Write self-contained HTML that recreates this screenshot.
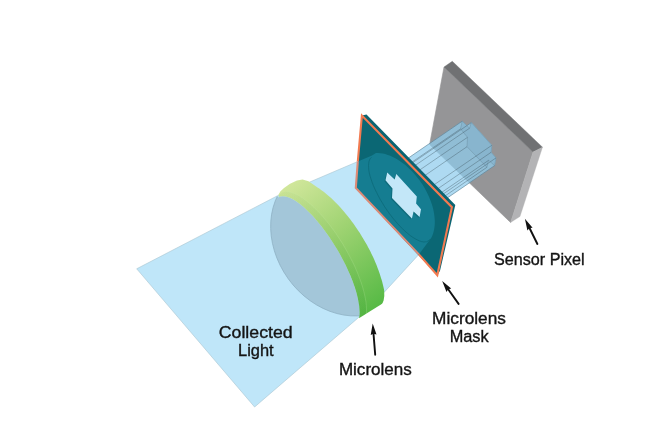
<!DOCTYPE html>
<html><head><meta charset="utf-8">
<style>
html,body{margin:0;padding:0;background:#fff;width:667px;height:430px;overflow:hidden}
svg{display:block}
text{font-family:"Liberation Sans",sans-serif;font-size:16px;fill:#141414;stroke:#141414;stroke-width:0.35px}
</style></head><body>
<svg width="667" height="430" viewBox="0 0 667 430">
<defs>
<linearGradient id="grn" x1="285" y1="185" x2="378" y2="305" gradientUnits="userSpaceOnUse">
<stop offset="0" stop-color="#d2e79c"/>
<stop offset="0.45" stop-color="#9fd372"/>
<stop offset="1" stop-color="#58ba46"/>
</linearGradient>
<clipPath id="cinside"><ellipse cx="316.10" cy="261.91" rx="74.90" ry="24.52" transform="rotate(59.47 316.10 261.91)" /><polygon points="-191.9,-599.5 824.1,1123.3 -37.3,1631.3 -1053.3,-91.5"/></clipPath>
<clipPath id="coutin"><path clip-rule="evenodd" transform="rotate(59.47 316.10 261.91)" d="M-3000,-3000 H3000 V3000 H-3000 Z M241.20,261.91 A74.90,24.52 0 1 0 391.00,261.91 A74.90,24.52 0 1 0 241.20,261.91 Z"/></clipPath>
<clipPath id="ccap"><polygon points="126.3,463.0 615.6,158.5 325.6,-307.5 -163.7,-3.0"/></clipPath>
<linearGradient id="strip" x1="285" y1="185" x2="378" y2="305" gradientUnits="userSpaceOnUse"><stop offset="0" stop-color="#2f8a2a" stop-opacity="0.02"/><stop offset="0.5" stop-color="#2f8a2a" stop-opacity="0.07"/><stop offset="1" stop-color="#2f8a2a" stop-opacity="0.16"/></linearGradient>
<clipPath id="maskclip"><polygon points="361.9,115.5 451.9,207.2 437.3,275.3 355.8,187.9"/></clipPath>
</defs>
<!-- sensor pixel slab -->
<polygon points="444,67 533,152 510.6,222.5 429.6,144.6" fill="#959597" stroke="#959597" stroke-width="0.6"/>
<polygon points="452.3,61.3 542.5,147.2 533,152 444,67" fill="#707173" stroke="#707173" stroke-width="0.4"/>
<polygon points="542.5,147.2 520,216.5 510.6,222.5 533,152" fill="#b3b3b5" stroke="#b3b3b5" stroke-width="0.3"/>
<!-- tubes -->
<g fill="#8fcdee" stroke="#8fcdee" stroke-width="0.3" opacity="0.72"><polygon points="387.2,172.5 394.6,179.5 469.6,128.2 462.2,121.2"/><polygon points="394.6,179.5 396.3,173.9 471.3,122.6 469.6,128.2"/><polygon points="396.3,173.9 416.8,196.6 491.8,145.3 471.3,122.6"/><polygon points="416.8,196.6 416.1,203.6 491.1,152.3 491.8,145.3"/><polygon points="416.1,203.6 421.0,209.2 496.0,157.9 491.1,152.3"/><polygon points="421.0,209.2 419.6,216.9 494.6,165.6 496.0,157.9"/><polygon points="419.6,216.9 413.6,211.6 488.6,160.3 494.6,165.6"/><polygon points="413.6,211.6 411.9,218.6 486.9,167.3 488.6,160.3"/><polygon points="411.9,218.6 392.0,198.0 467.0,146.7 486.9,167.3"/><polygon points="392.0,198.0 392.5,188.6 467.5,137.3 467.0,146.7"/><polygon points="392.5,188.6 385.5,180.2 460.5,128.9 467.5,137.3"/><polygon points="385.5,180.2 387.2,172.5 462.2,121.2 460.5,128.9"/><polygon points="462.2,121.2 469.6,128.2 471.3,122.6 491.8,145.3 491.1,152.3 496.0,157.9 494.6,165.6 488.6,160.3 486.9,167.3 467.0,146.7 467.5,137.3 460.5,128.9"/></g><polygon points="462.2,121.2 469.6,128.2 471.3,122.6 491.8,145.3 491.1,152.3 496.0,157.9 494.6,165.6 488.6,160.3 486.9,167.3 467.0,146.7 467.5,137.3 460.5,128.9" fill="#6f9cb5" fill-opacity="0.22"/><g stroke="#3c525d" stroke-width="0.7" stroke-opacity="0.55" fill="none"><line x1="387.2" y1="172.5" x2="462.2" y2="121.2"/><line x1="394.6" y1="179.5" x2="469.6" y2="128.2"/><line x1="396.3" y1="173.9" x2="471.3" y2="122.6"/><line x1="416.8" y1="196.6" x2="491.8" y2="145.3"/><line x1="416.1" y1="203.6" x2="491.1" y2="152.3"/><line x1="421.0" y1="209.2" x2="496.0" y2="157.9"/><line x1="419.6" y1="216.9" x2="494.6" y2="165.6"/><line x1="413.6" y1="211.6" x2="488.6" y2="160.3"/><line x1="411.9" y1="218.6" x2="486.9" y2="167.3"/><line x1="392.0" y1="198.0" x2="467.0" y2="146.7"/><line x1="392.5" y1="188.6" x2="467.5" y2="137.3"/><line x1="385.5" y1="180.2" x2="460.5" y2="128.9"/><polygon points="462.2,121.2 469.6,128.2 471.3,122.6 491.8,145.3 491.1,152.3 496.0,157.9 494.6,165.6 488.6,160.3 486.9,167.3 467.0,146.7 467.5,137.3 460.5,128.9" stroke-opacity="0.28"/></g>
<!-- collected light beam -->
<path d="M136.7,268.8 L277,196 L357.8,161.5 L372,155 L418.9,254.4 L383.8,292.7 L358,318 L254.6,407 Z" fill="#bfe6f9" stroke="#a8c4d0" stroke-width="0.6"/>
<!-- lens -->
<g clip-path="url(#cinside)"><ellipse cx="341.77" cy="240.27" rx="80.26" ry="65.94" transform="rotate(54.37 341.77 240.27)" fill="#a3c6d9" stroke="#8eafc2" stroke-width="0.7"/></g>
<g clip-path="url(#ccap)"><g clip-path="url(#coutin)"><path d="M278.4,194.8 L280.5,191.2 L284.0,188.0 L290.0,183.8 L297.0,180.5 L302.5,179.5 L308.5,181.2 L316.5,186.8 L317.9,187.7 L319.3,188.6 L320.8,189.7 L322.2,190.7 L323.7,191.8 L325.2,193.0 L326.6,194.2 L328.1,195.5 L329.6,196.8 L331.1,198.1 L332.6,199.5 L334.1,201.0 L335.6,202.4 L337.1,204.0 L338.6,205.5 L340.0,207.1 L341.5,208.8 L343.0,210.4 L344.5,212.2 L345.9,213.9 L347.4,215.7 L348.8,217.5 L350.2,219.3 L351.6,221.2 L353.0,223.1 L354.4,225.0 L355.7,226.9 L357.1,228.9 L358.4,230.9 L359.7,232.8 L361.0,234.9 L362.2,236.9 L363.4,238.9 L364.6,241.0 L365.8,243.0 L367.0,245.1 L368.1,247.2 L369.2,249.3 L370.3,251.3 L371.3,253.4 L372.3,255.5 L373.3,257.6 L374.2,259.6 L375.1,261.7 L376.0,263.8 L376.8,265.8 L377.6,267.9 L378.4,269.9 L379.1,271.9 L379.8,273.9 L380.4,275.9 L381.0,277.9 L381.6,279.8 L382.2,281.7 L382.6,283.6 L383.1,285.5 L383.5,287.3 L383.9,289.1 L384.2,290.9 L384.3,296.0 L383.6,300.5 L382.4,303.5 L368.0,328.0 L351.6,322.2 L316.0,262.0 L280.5,201.7 Z" fill="url(#grn)"/><ellipse cx="320.73" cy="259.40" rx="77.09" ry="26.79" transform="rotate(59.09 320.73 259.40)" fill="url(#strip)"/></g></g>
<path d="M285.9,191.9 L287.9,191.9 L290.0,192.2 L292.3,192.8 L294.7,193.7 L297.2,194.9 L299.8,196.3 L302.5,198.0 L305.3,200.0 L308.1,202.2 L311.0,204.6 L313.9,207.3 L316.9,210.3 L319.9,213.4 L322.9,216.7 L325.8,220.2 L328.8,223.8 L331.7,227.7 L334.6,231.6 L337.4,235.7 L340.1,239.8 L342.8,244.1 L345.3,248.4 L347.8,252.8 L350.1,257.2 L352.4,261.6 L354.5,265.9 L356.4,270.3 L358.2,274.6 L359.8,278.9 L361.3,283.0 L362.6,287.1 L363.7,291.1 L364.6,294.9 L365.4,298.6 L366.0,302.1 L366.3,305.4 L366.5,308.5 L366.5,311.4 L366.3,314.1 " stroke="#c8eeb0" stroke-opacity="0.2" stroke-width="1" fill="none"/>
<!-- mask depth -->
<polygon points="361.9,115.5 366.5,114.5 455.3,204.9 440,270.7 437.3,275.3 451.9,207.2" fill="#0b6472"/>
<!-- mask face -->
<polygon points="361.9,115.5 451.9,207.2 437.3,275.3 355.8,187.9" fill="#0b6774"/>
<g clip-path="url(#maskclip)">
<path d="M357.8,161.5 L372.0,155.4 L375.9,153.0 L378.1,153.0 L380.5,153.2 L382.9,153.5 L385.3,154.1 L387.8,154.9 L390.3,155.8 L392.8,156.9 L395.4,158.2 L397.9,159.7 L400.4,161.4 L402.9,163.2 L405.4,165.1 L407.8,167.2 L410.2,169.4 L412.5,171.8 L414.7,174.3 L416.9,176.9 L419.0,179.5 L420.9,182.3 L422.8,185.1 L424.6,188.0 L426.2,191.0 L427.7,194.0 L429.1,197.0 L430.3,200.1 L431.4,203.1 L432.4,206.1 L433.2,209.1 L433.8,212.1 L434.3,215.0 L434.6,217.9 L434.8,220.7 L434.8,223.4 L434.6,226.1 L434.3,228.6 L433.8,231.0 L433.2,233.3 L432.4,235.4 L431.5,237.4 L418.9,254.4 L350.0,254.4 L350.0,161.5 Z" fill="#157d91"/>
<path d="M371.5,157.4 L370.4,158.5 L369.6,159.8 L369.0,161.4 L368.7,163.2 L368.5,165.4 L368.6,167.7 L368.8,170.2 L369.3,173.0 L370.0,175.9 L371.0,179.0 L372.1,182.2 L373.4,185.6 L374.9,189.0 L376.6,192.5 L378.4,196.1 L380.4,199.7 L382.5,203.2 L384.7,206.8 L387.1,210.3 L389.5,213.7 L392.0,217.0 L394.6,220.2 L397.2,223.2 L399.8,226.1 L402.5,228.7 L405.1,231.2 L407.7,233.5 L410.2,235.5 L412.6,237.2 L415.0,238.7 L417.3,239.9 L419.4,240.9 L421.4,241.5 L423.3,241.9 L425.0,241.9 L426.5,241.7 L427.9,241.1 L429.0,240.3 L430.0,239.2 " stroke="#0c6a79" stroke-width="0.8" fill="none"/>
</g>
<polyline points="357.8,161.5 361.9,115.5 451.9,207.2 437.3,275.3 418.9,254.4" fill="none" stroke="#f27a50" stroke-width="2.1" stroke-linejoin="miter"/>
<polyline points="357.8,161.5 355.8,187.9 418.9,254.4" fill="none" stroke="#dd8a76" stroke-width="2.1" stroke-linejoin="miter"/>
<!-- cross -->
<polygon points="386.3,173.5 393.6,180.5 395.3,174.9 415.8,197.6 415.1,204.6 420,210.2 418.6,217.9 412.6,212.6 410.9,219.6 391,199 391.5,189.6 384.5,181.2" fill="#0b5f6c" fill-opacity="0.55"/>
<polygon points="387.2,172.5 394.6,179.5 396.3,173.9 416.8,196.6 416.1,203.6 421,209.2 419.6,216.9 413.6,211.6 411.9,218.6 392,198 392.5,188.6 385.5,180.2" fill="#c3e7f8"/>
<!-- arrows -->
<line x1="537.4" y1="244.0" x2="529.5" y2="228.0" stroke="#111" stroke-width="1.9" stroke-linecap="round"/><polygon points="524.9,218.8 532.6,227.8 529.5,228.0 527.4,230.4" fill="#111"/><line x1="458.6" y1="303.9" x2="448.2" y2="289.3" stroke="#111" stroke-width="1.9" stroke-linecap="round"/><polygon points="442.2,280.9 451.2,288.6 448.2,289.3 446.5,291.9" fill="#111"/><line x1="375.2" y1="354.7" x2="373.5" y2="333.7" stroke="#111" stroke-width="1.9" stroke-linecap="round"/><polygon points="372.7,323.4 376.5,334.6 373.5,333.7 370.7,335.1" fill="#111"/>
<!-- labels -->
<g class="lbl" style="will-change:transform">
<text x="218.8" y="337.7" textLength="73.8" lengthAdjust="spacingAndGlyphs">Collected</text>
<text x="238" y="356.2" textLength="35.6" lengthAdjust="spacingAndGlyphs">Light</text>
<text x="338.9" y="375.1" textLength="72.9" lengthAdjust="spacingAndGlyphs">Microlens</text>
<text x="432.1" y="323.9" textLength="73.8" lengthAdjust="spacingAndGlyphs">Microlens</text>
<text x="449.7" y="342.1" textLength="39" lengthAdjust="spacingAndGlyphs">Mask</text>
<text x="494" y="264.9" textLength="90.7" lengthAdjust="spacingAndGlyphs">Sensor Pixel</text>
</g>
</svg>
</body></html>
